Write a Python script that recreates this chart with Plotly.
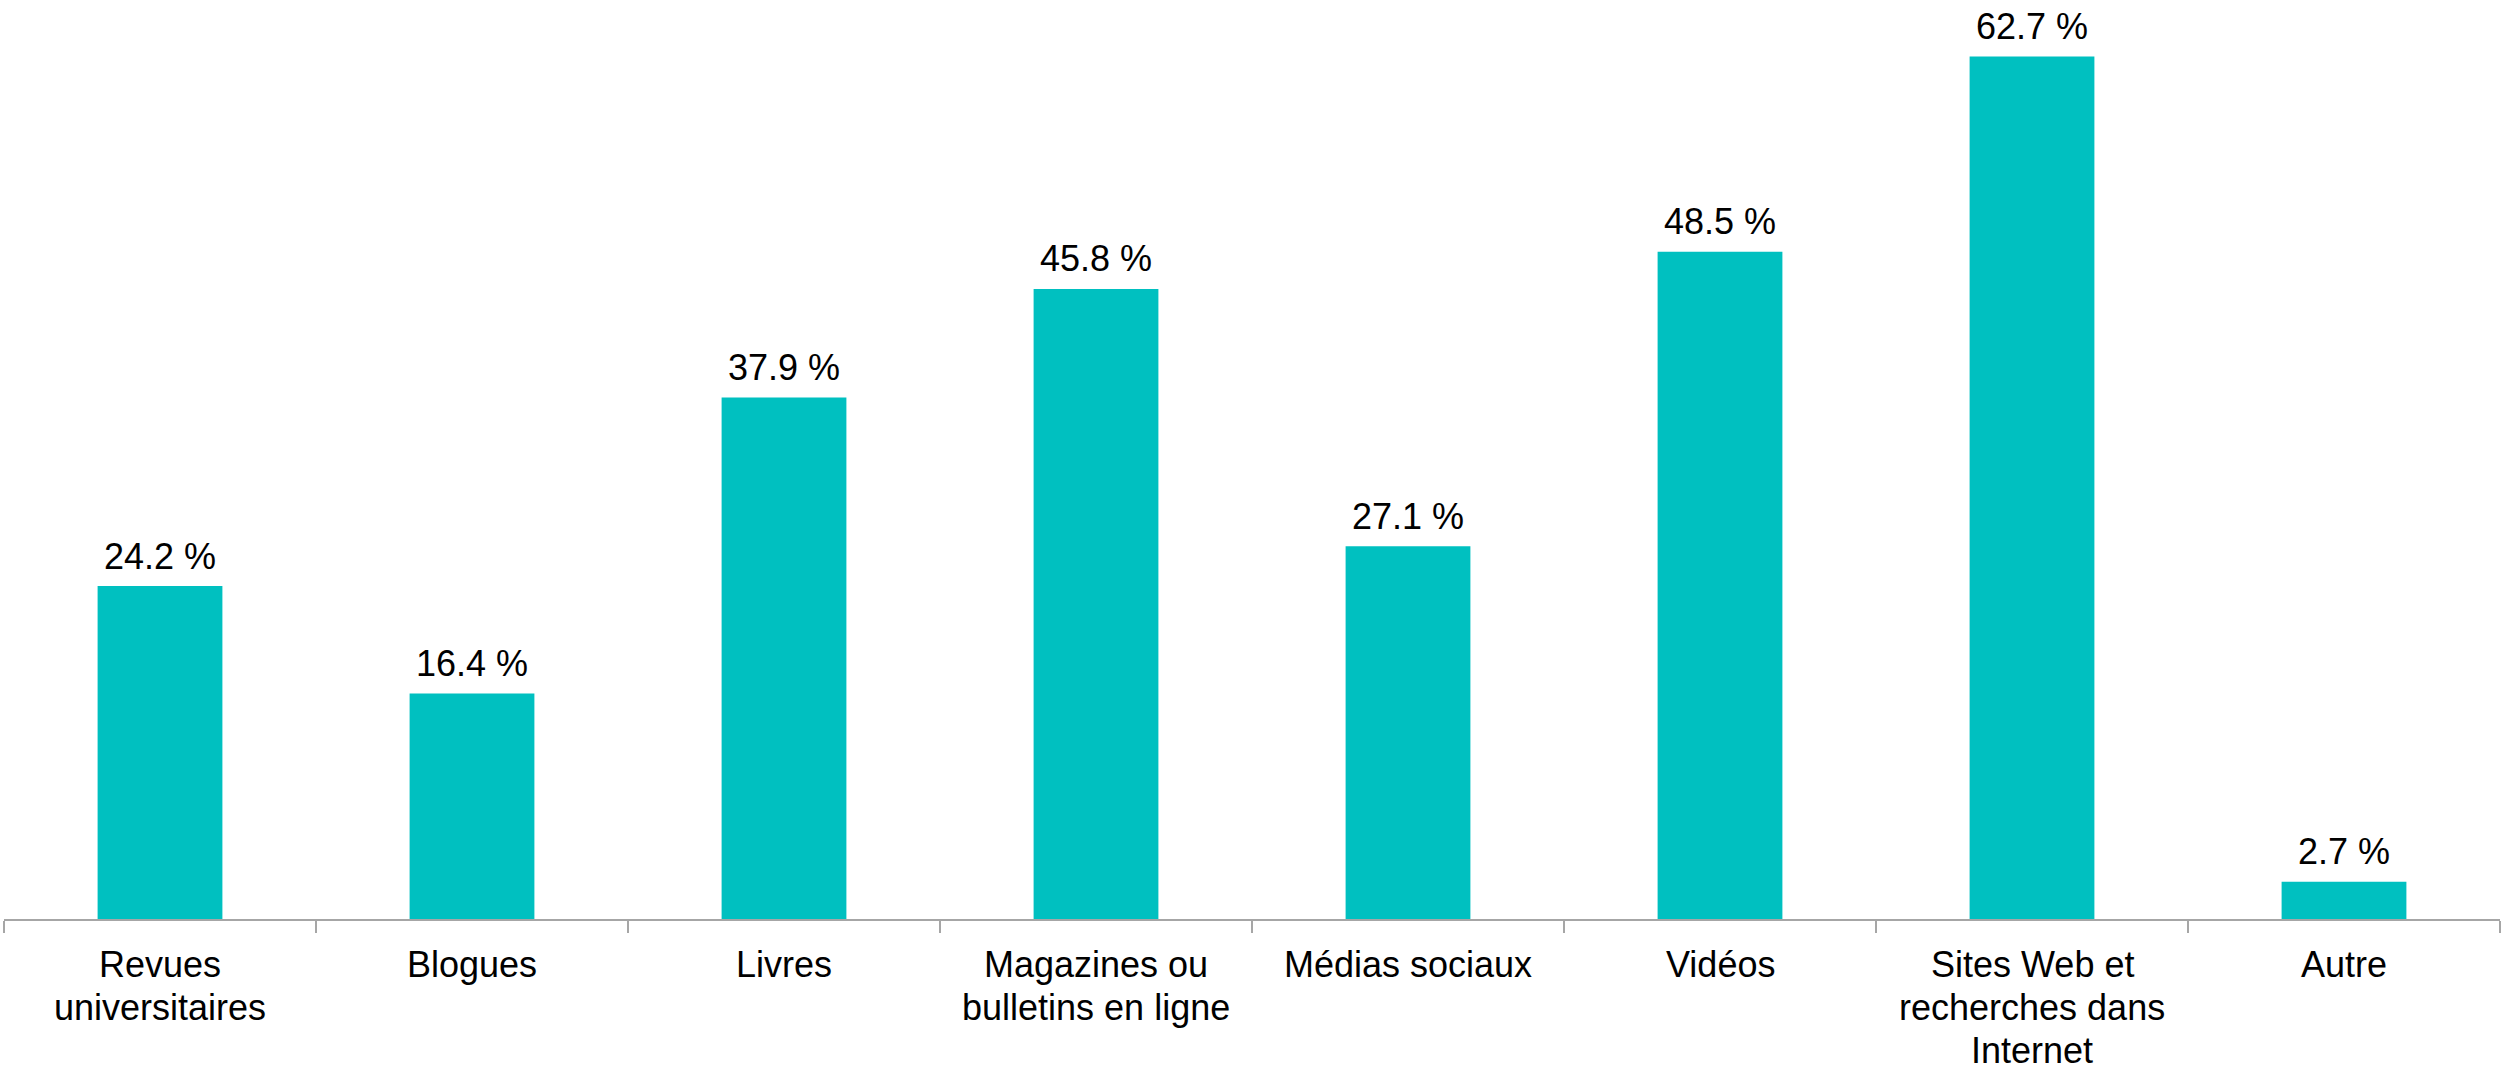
import plotly.graph_objects as go

# Sources consulted (share of respondents, %)
categories = [
    "Revues universitaires",
    "Blogues",
    "Livres",
    "Magazines ou bulletins en ligne",
    "Médias sociaux",
    "Vidéos",
    "Sites Web et recherches dans Internet",
    "Autre",
]
# Line breaks used for the category labels under the axis
category_lines = [
    ["Revues", "universitaires"],
    ["Blogues"],
    ["Livres"],
    ["Magazines ou", "bulletins en ligne"],
    ["Médias sociaux"],
    ["Vidéos"],
    ["Sites Web et", "recherches dans", "Internet"],
    ["Autre"],
]
values = [24.2, 16.4, 37.9, 45.8, 27.1, 48.5, 62.7, 2.7]
value_labels = [f"{v:.1f} %" for v in values]

BAR_COLOR = "#00C0C0"
AXIS_COLOR = "#A6A6A6"
FONT = "Liberation Sans, Arial, sans-serif"
FONT_SIZE = 36
LINE_STEP = 43

fig = go.Figure(
    go.Bar(
        x=categories,
        y=values,
        marker=dict(color=BAR_COLOR, line=dict(width=0)),
        hoverinfo="skip",
    )
)

annotations = []
# Value labels above each bar
for cat, val, lab in zip(categories, values, value_labels):
    annotations.append(dict(
        x=cat, y=val, xref="x", yref="y",
        text=lab, showarrow=False,
        yanchor="middle", xanchor="center",
        yshift=30,
        font=dict(family=FONT, size=FONT_SIZE, color="#000000"),
    ))
# Category labels below the axis, one annotation per line
for cat, lines in zip(categories, category_lines):
    for i, line in enumerate(lines):
        annotations.append(dict(
            x=cat, y=0, xref="x", yref="y",
            text=line, showarrow=False,
            yanchor="middle", xanchor="center",
            yshift=-45 - i * LINE_STEP,
            font=dict(family=FONT, size=FONT_SIZE, color="#000000"),
        ))

fig.update_layout(
    width=2501,
    height=1065,
    margin=dict(l=4, r=1, t=0, b=146),
    paper_bgcolor="white",
    plot_bgcolor="white",
    bargap=0.6,
    showlegend=False,
    font=dict(family=FONT, size=FONT_SIZE, color="#000000"),
    annotations=annotations,
)

fig.update_xaxes(
    showline=True,
    linecolor=AXIS_COLOR,
    linewidth=2,
    ticks="outside",
    tickson="boundaries",
    ticklen=12,
    tickwidth=2,
    tickcolor=AXIS_COLOR,
    showticklabels=False,
    showgrid=False,
)

fig.update_yaxes(
    range=[0, 66.8],
    visible=False,
    showgrid=False,
    zeroline=False,
)

fig.write_html("out.html")
